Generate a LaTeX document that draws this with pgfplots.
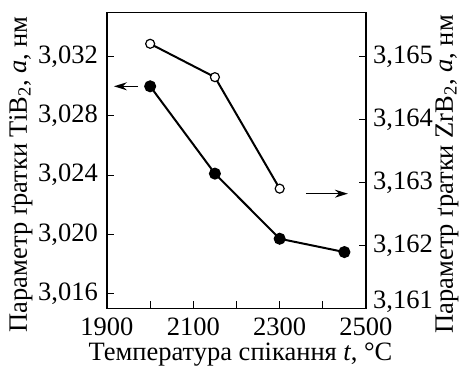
\documentclass[border=0pt]{standalone}
\usepackage{fontspec}
\setmainfont{Liberation Serif}
\usepackage{pgfplots}
\pgfplotsset{compat=1.18}
\usetikzlibrary{arrows.meta}
\begin{document}
\fontsize{26.5}{31}\selectfont
\begin{tikzpicture}
\pgfplotsset{
 common/.style={
  width=259pt, height=296pt, scale only axis,
  xmin=1900, xmax=2500,
  tick style={black, line width=1pt},
  major tick length=7.5pt,
  tick align=inside,
  scaled y ticks=false,
  /pgf/number format/assume math mode=true,
  /pgf/number format/use comma,
  /pgf/number format/1000 sep={},
  axis line style={line width=1.1pt},
  font=\fontsize{26.5}{31}\selectfont,
  yticklabel style={/pgf/number format/fixed, /pgf/number format/precision=3, /pgf/number format/fixed zerofill, inner sep=0pt},
 }
}
\begin{axis}[common, name=main,
  ymin=3.015, ymax=3.035,
  ytick={3.016,3.020,3.024,3.028,3.032},
  xtick={1900,2000,2100,2200,2300,2400,2500},
  xticklabels={1900,,2100,,2300,,2500},
  xtick pos=left, ytick pos=left,
  xticklabel style={anchor=base, inner sep=0pt, yshift=-27.4pt},
  yticklabel style={anchor=east, xshift=-9pt},
  xlabel={Температура спікання \textit{t}, °C},
  xlabel style={at={([xshift=4pt,yshift=-51.7pt]axis description cs:0.5,0)}, anchor=base, inner sep=0pt},
  ylabel={Параметр ґратки TiB\textsubscript{2}, \textit{a}, нм},
  ylabel style={at={([xshift=-86pt]axis description cs:0,0.453)}, anchor=center, inner sep=0pt},
]
\addplot[black, line width=2pt, mark=*, mark size=5pt] coordinates {(2000,3.0300)(2150,3.0241)(2300,3.0197)(2450,3.0188)};
\draw[-{Stealth[length=13pt,width=8pt]}, line width=1.3pt] (axis cs:1972,3.0300) -- (axis cs:1916,3.0300);
\end{axis}
\begin{axis}[common,
  axis x line=none, axis y line*=right,
  ymin=3.161, ymax=3.1657,
  ytick={3.161,3.162,3.163,3.164,3.165},
  yticklabels={{\smash{3,161}},{3,162},{3,163},{3,164},{3,165}},
  yticklabel style={anchor=west, xshift=7pt},
  ylabel={Параметр ґратки ZrB\textsubscript{2}, \textit{a}, нм},
  ylabel style={at={([xshift=81pt]axis description cs:1,0.453)}, anchor=center, inner sep=0pt},
]
\addplot[black, line width=2pt, mark=*, mark size=4.5pt, mark options={fill=white, line width=1.2pt}] coordinates {(2000,3.1652)(2150,3.16467)(2300,3.1629)};
\draw[-{Stealth[length=13pt,width=8pt]}, line width=1.3pt] (axis cs:2361,3.16282) -- (axis cs:2458,3.16282);
\end{axis}
\pgfresetboundingbox
\path[use as bounding box] ([shift={(-107pt,-58.7pt)}]main.south west) rectangle ([shift={(96pt,12.3pt)}]main.north east);
\end{tikzpicture}
\end{document}
